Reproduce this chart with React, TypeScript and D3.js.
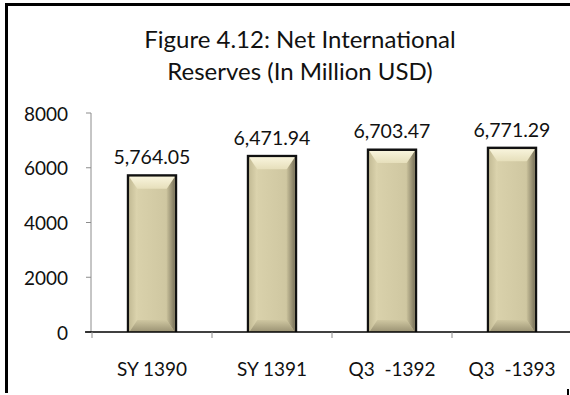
import React from "react";
import * as d3 from "d3";

const categories = ["SY 1390", "SY 1391", "Q3  -1392", "Q3  -1393"];
const values = [5764.05, 6471.94, 6703.47, 6771.29];
const yTicks = [0, 2000, 4000, 6000, 8000];
const titleLines = ["Figure 4.12: Net International", "Reserves (In Million USD)"];

const W = 570;
const H = 395;
const FONT = "Lato, 'Open Sans', sans-serif";

export default function App() {
  const x = d3.scaleBand<string>().domain(categories).range([92, 572]).padding(0);
  const y = d3.scaleLinear().domain([0, 8000]).range([332, 113]);
  const barW = x.bandwidth() * 0.42;
  const fmt = d3.format(",.2f");
  const bv = 12; // top/bottom bevel
  const sv = 8; // side bevel
  const b = 2.5; // border

  return (
    <svg
      width={W}
      height={H}
      style={{ position: "absolute", left: 0, top: 0, background: "#fff" }}
      fontFamily={FONT}
    >
      <defs>
        <linearGradient id="gTop" x1="0" y1="0" x2="0" y2="1">
          <stop offset="0" stopColor="#f8f4dc" />
          <stop offset="1" stopColor="#e6dfbb" />
        </linearGradient>
        <linearGradient id="gBot" x1="0" y1="0" x2="0" y2="1">
          <stop offset="0" stopColor="#cfc7a1" />
          <stop offset="1" stopColor="#9a9273" />
        </linearGradient>
        <linearGradient id="gLeft" x1="0" y1="0" x2="1" y2="0">
          <stop offset="0" stopColor="#c4bc96" />
          <stop offset="1" stopColor="#ddd5af" />
        </linearGradient>
        <linearGradient id="gRight" x1="0" y1="0" x2="1" y2="0">
          <stop offset="0" stopColor="#c9c19b" />
          <stop offset="1" stopColor="#7b745c" />
        </linearGradient>
        <linearGradient id="gMid" x1="0" y1="0" x2="1" y2="0">
          <stop offset="0" stopColor="#dcd4ae" />
          <stop offset="1" stopColor="#ccc49e" />
        </linearGradient>
      </defs>

      {/* frame */}
      <rect x={5} y={3} width={3} height={390} fill="#000" />
      <rect x={5} y={3} width={565} height={3} fill="#000" />
      <rect x={567} y={389} width={2} height={6} fill="#000" />

      {/* title */}
      {titleLines.map((t, i) => (
        <text
          key={t}
          x={300}
          y={38 + i * 32}
          textAnchor="middle"
          dominantBaseline="central"
          fontSize={24}
          fill="#111"
        >
          {t}
        </text>
      ))}

      {/* y axis */}
      <line x1={91} x2={91} y1={y(8000)} y2={y(0)} stroke="#8c8c8c" strokeWidth={1} />
      {yTicks.map((t) => (
        <g key={t}>
          <line x1={86} x2={91} y1={y(t)} y2={y(t)} stroke="#8c8c8c" strokeWidth={1} />
          <text
            x={68}
            y={y(t)}
            textAnchor="end"
            dominantBaseline="central"
            fontSize={19}
            fill="#111"
          >
            {t}
          </text>
        </g>
      ))}

      {/* bars */}
      {categories.map((c, i) => {
        const cx = (x(c) as number) + x.bandwidth() / 2;
        const x0 = cx - barW / 2;
        const x1 = cx + barW / 2;
        const y0 = y(values[i]);
        const y1 = y(0);
        const ix0 = x0 + b;
        const ix1 = x1 - b;
        const iy0 = y0 + b;
        const iy1 = y1;
        const pts = (a: number[][]) => a.map((p) => p.join(",")).join(" ");
        return (
          <g key={c}>
            <rect x={x0} y={y0} width={barW} height={y1 - y0} fill="#111" />
            <rect x={ix0} y={iy0} width={ix1 - ix0} height={iy1 - iy0} fill="url(#gMid)" />
            <polygon
              points={pts([
                [ix0, iy0],
                [ix0 + sv, iy0 + bv],
                [ix0 + sv, iy1 - bv],
                [ix0, iy1],
              ])}
              fill="url(#gLeft)"
            />
            <polygon
              points={pts([
                [ix1, iy0],
                [ix1 - sv, iy0 + bv],
                [ix1 - sv, iy1 - bv],
                [ix1, iy1],
              ])}
              fill="url(#gRight)"
            />
            <polygon
              points={pts([
                [ix0, iy0],
                [ix1, iy0],
                [ix1 - sv, iy0 + bv],
                [ix0 + sv, iy0 + bv],
              ])}
              fill="url(#gTop)"
            />
            <polygon
              points={pts([
                [ix0 + sv, iy1 - bv],
                [ix1 - sv, iy1 - bv],
                [ix1, iy1],
                [ix0, iy1],
              ])}
              fill="url(#gBot)"
            />
            <text
              x={cx}
              y={y0 - 10}
              textAnchor="middle"
              fontSize={19.5}
              fill="#111"
            >
              {fmt(values[i])}
            </text>
          </g>
        );
      })}

      {/* x axis */}
      <line x1={85} x2={570} y1={y(0)} y2={y(0)} stroke="#000" strokeWidth={1.3} />
      {categories.map((c) => (
        <g key={c}>
          <line
            x1={x(c) as number}
            x2={x(c) as number}
            y1={y(0)}
            y2={y(0) + 6}
            stroke="#8c8c8c"
            strokeWidth={1}
          />
          <text
            x={(x(c) as number) + x.bandwidth() / 2}
            y={368}
            textAnchor="middle"
            dominantBaseline="central"
            fontSize={19}
            fill="#111"
            style={{ whiteSpace: "pre" }}
          >
            {c}
          </text>
        </g>
      ))}
    </svg>
  );
}
